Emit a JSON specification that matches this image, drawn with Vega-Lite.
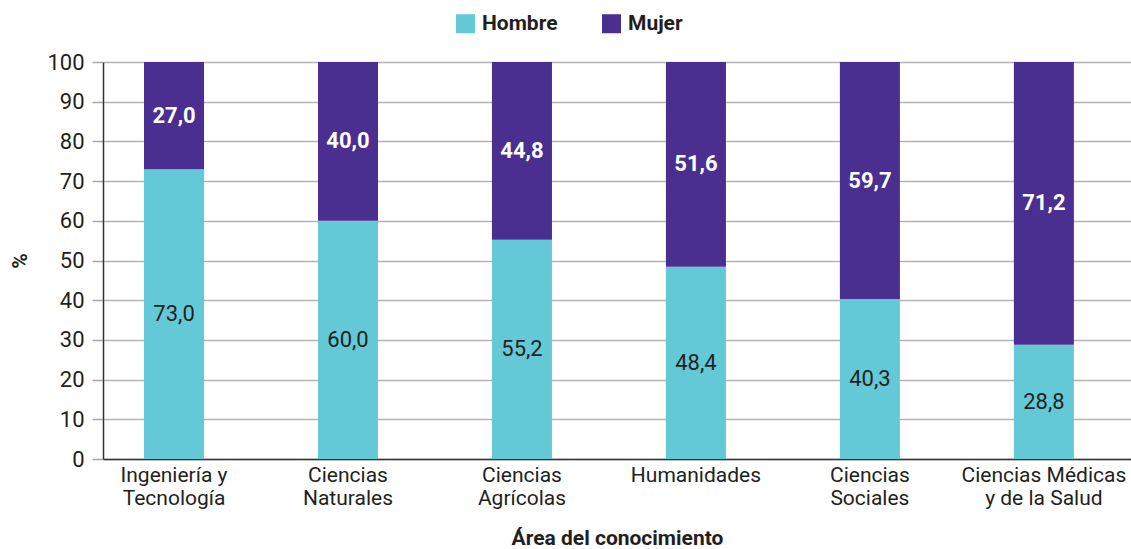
{
  "$schema": "https://vega.github.io/schema/vega-lite/v6.json",
  "width": 1028,
  "height": 397,
  "autosize": "none",
  "padding": {"left": 103, "top": 62, "right": 0, "bottom": 90},
  "config": {
    "font": "Roboto",
    "view": {"stroke": null},
    "locale": {"number": {"decimal": ",", "thousands": ".", "grouping": [3], "currency": ["", " €"]}}
  },
  "data": {
    "values": [
      {"area": "Ingeniería y Tecnología", "gender": "Hombre", "value": 73.0},
      {"area": "Ingeniería y Tecnología", "gender": "Mujer", "value": 27.0},
      {"area": "Ciencias Naturales", "gender": "Hombre", "value": 60.0},
      {"area": "Ciencias Naturales", "gender": "Mujer", "value": 40.0},
      {"area": "Ciencias Agrícolas", "gender": "Hombre", "value": 55.2},
      {"area": "Ciencias Agrícolas", "gender": "Mujer", "value": 44.8},
      {"area": "Humanidades", "gender": "Hombre", "value": 48.4},
      {"area": "Humanidades", "gender": "Mujer", "value": 51.6},
      {"area": "Ciencias Sociales", "gender": "Hombre", "value": 40.3},
      {"area": "Ciencias Sociales", "gender": "Mujer", "value": 59.7},
      {"area": "Ciencias Médicas y de la Salud", "gender": "Hombre", "value": 28.8},
      {"area": "Ciencias Médicas y de la Salud", "gender": "Mujer", "value": 71.2}
    ]
  },
  "transform": [
    {"stack": "value", "groupby": ["area"], "sort": [{"field": "gender", "order": "ascending"}], "as": ["y0", "y1"]},
    {"calculate": "(datum.y0 + datum.y1) / 2", "as": "ymid"}
  ],
  "encoding": {
    "x": {
      "field": "area",
      "type": "nominal",
      "sort": ["Ingeniería y Tecnología", "Ciencias Naturales", "Ciencias Agrícolas", "Humanidades", "Ciencias Sociales", "Ciencias Médicas y de la Salud"],
      "scale": {"paddingInner": 0.655, "paddingOuter": 0.282, "align": 0.418},
      "axis": {
        "title": "Área del conocimiento",
        "titleFontSize": 21,
        "titleFontWeight": "bold",
        "titleColor": "#231f20",
        "titleBaseline": "middle",
        "titleY": 79,
        "labelAngle": 0,
        "labelFontSize": 21,
        "labelColor": "#231f20",
        "labelLineHeight": 23,
        "labelPadding": 5,
        "labelBaseline": "top",
        "ticks": false,
        "domainColor": "#333333",
        "domainWidth": 1.5,
        "labelExpr": "datum.value == 'Ingeniería y Tecnología' ? ['Ingeniería y', 'Tecnología'] : datum.value == 'Ciencias Naturales' ? ['Ciencias', 'Naturales'] : datum.value == 'Ciencias Agrícolas' ? ['Ciencias', 'Agrícolas'] : datum.value == 'Ciencias Sociales' ? ['Ciencias', 'Sociales'] : datum.value == 'Ciencias Médicas y de la Salud' ? ['Ciencias Médicas', 'y de la Salud'] : datum.value"
      }
    },
    "y": {
      "field": "y0",
      "type": "quantitative",
      "scale": {"domain": [0, 100], "nice": false},
      "axis": {
        "title": "%",
        "titleFontSize": 21,
        "titleFontWeight": "bold",
        "titleColor": "#231f20",
        "titleAngle": -90,
        "titleAlign": "center",
        "titleBaseline": "middle",
        "titleX": -83,
        "titleY": 198.5,
        "values": [0, 10, 20, 30, 40, 50, 60, 70, 80, 90, 100],
        "labelOverlap": false,
        "labelFontSize": 22,
        "labelColor": "#231f20",
        "labelPadding": 8,
        "tickSize": 11,
        "tickColor": "#a6a6a6",
        "tickWidth": 1.5,
        "grid": true,
        "gridColor": "#b3b3b3",
        "gridWidth": 1.5,
        "domainColor": "#333333",
        "domainWidth": 1.5
      }
    }
  },
  "layer": [
    {
      "mark": {"type": "bar"},
      "encoding": {
        "y2": {"field": "y1"},
        "color": {
          "field": "gender",
          "type": "nominal",
          "scale": {"domain": ["Hombre", "Mujer"], "range": ["#64c9d7", "#4a2e90"]},
          "legend": {
            "title": null,
            "orient": "none",
            "direction": "horizontal",
            "legendX": 352,
            "legendY": -49,
            "symbolType": "square",
            "symbolSize": 361,
            "symbolStrokeWidth": 0,
            "labelFontSize": 21,
            "labelFontWeight": "bold",
            "labelColor": "#231f20",
            "labelOffset": 6,
            "columnPadding": 43
          }
        }
      }
    },
    {
      "transform": [{"filter": "datum.gender == 'Hombre'"}],
      "mark": {"type": "text", "fontSize": 22, "color": "#231f20", "baseline": "middle", "align": "center"},
      "encoding": {
        "y": {"field": "ymid", "type": "quantitative"},
        "text": {"field": "value", "type": "quantitative", "format": ".1f"}
      }
    },
    {
      "transform": [{"filter": "datum.gender == 'Mujer'"}],
      "mark": {"type": "text", "fontSize": 22, "fontWeight": "bold", "color": "white", "baseline": "middle", "align": "center"},
      "encoding": {
        "y": {"field": "ymid", "type": "quantitative"},
        "text": {"field": "value", "type": "quantitative", "format": ".1f"}
      }
    }
  ]
}
